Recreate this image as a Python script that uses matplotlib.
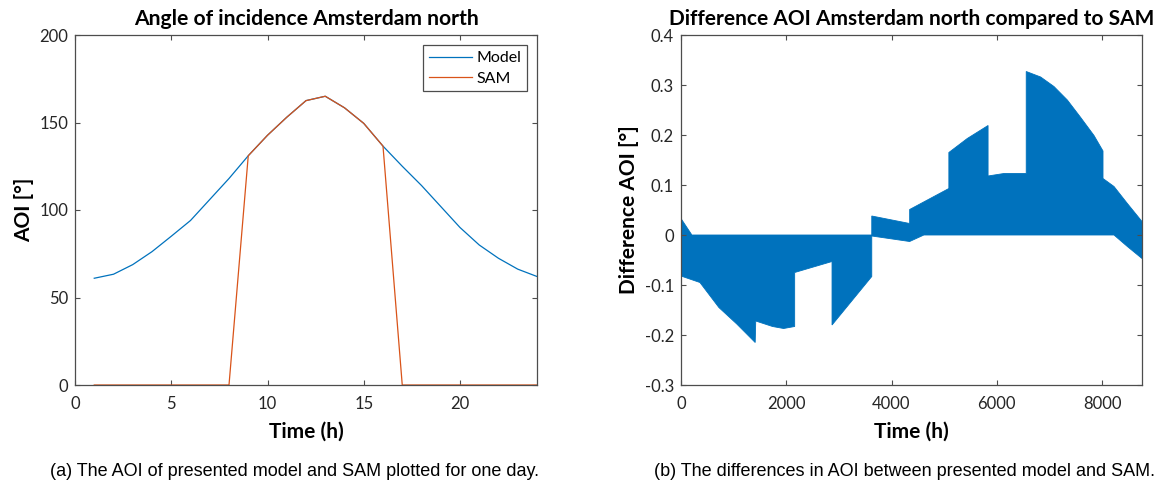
"""
AOI comparison figure: one day of model vs SAM angle of incidence,
and the hourly difference between the two over a full year.
"""

import matplotlib
matplotlib.use("Agg")   # headless
import matplotlib.pyplot as plt


# ─────────────────────────────────────────────── data

HOURS = list(range(1, 25))
AOI_MODEL = [61, 63.3, 68.8, 76.2, 85, 94, 106, 118, 131, 142.7, 153, 162.5,
             165, 158.4, 149.5, 136.5, 125, 114, 102, 90, 80, 72.4, 66.2, 62]
AOI_SAM = [0, 0, 0, 0, 0, 0, 0, 0, 131, 142.7, 153, 162.5,
           165, 158.4, 149.5, 136.5, 0, 0, 0, 0, 0, 0, 0, 0]

# edges of the hourly difference band over the year (hour, degrees)
DIFF_UPPER_H = [0, 207, 3625, 3625, 4345, 4345, 5090, 5090, 5440, 5835, 5835,
                6136, 6560, 6560, 6834, 7087, 7341, 7595, 7848, 8019, 8019,
                8228, 8482, 8760]
DIFF_UPPER_V = [0.033, 0.0, 0.0, 0.038, 0.023, 0.051, 0.093, 0.165, 0.193,
                0.219, 0.118, 0.123, 0.123, 0.327, 0.316, 0.297, 0.27, 0.235,
                0.199, 0.168, 0.113, 0.097, 0.063, 0.027]
DIFF_LOWER_H = [0, 360, 720, 1060, 1410, 1420, 1740, 1950, 2160, 2160, 2870,
                2870, 3625, 3625, 4345, 4615, 8228, 8482, 8760]
DIFF_LOWER_V = [-0.082, -0.095, -0.145, -0.178, -0.215, -0.172, -0.183,
                -0.187, -0.183, -0.075, -0.053, -0.18, -0.083, -0.002, -0.013,
                0.0, 0.0, -0.023, -0.047]

BLUE   = "#0072BD"
ORANGE = "#D95319"
INK    = "#262626"

plt.rcParams["font.family"] = ["Lato", "DejaVu Sans"]


# ─────────────────────────────────────────────── helpers

def _style_axes(ax):
    for sp in ax.spines.values():
        sp.set_edgecolor("#4d4d4d")
        sp.set_linewidth(0.9)
    ax.tick_params(direction="in", length=3.3, width=0.8, color="#4d4d4d",
                   labelcolor=INK, labelsize=12, top=True, right=True)
    ax.tick_params(axis="x", pad=8)
    ax.tick_params(axis="y", pad=5)


# ─────────────────────────────────────────────── figure

fig = plt.figure(figsize=(11.6, 4.88), dpi=100)
ax_l = fig.add_axes([75 / 1160, 103 / 488, 462 / 1160, 350 / 488])
ax_r = fig.add_axes([681 / 1160, 103 / 488, 461 / 1160, 350 / 488])

# left: one day
ax_l.plot(HOURS, AOI_MODEL, color=BLUE, lw=0.9, label="Model")
ax_l.plot(HOURS, AOI_SAM, color=ORANGE, lw=0.9, label="SAM")
ax_l.set_xlim(0, 24)
ax_l.set_ylim(0, 200)
ax_l.set_xticks([0, 5, 10, 15, 20])
ax_l.set_yticks([0, 50, 100, 150, 200])
ax_l.set_title("Angle of incidence Amsterdam north", fontsize=15.2,
               fontweight="bold", color="black", pad=7)
ax_l.set_xlabel("Time (h)", fontsize=15, fontweight="bold", labelpad=7)
ax_l.set_ylabel("AOI [°]", fontsize=15, fontweight="bold", labelpad=4)
leg = ax_l.legend(loc="upper right", fontsize=11.5, handlelength=2.7,
                  handletextpad=0.25, borderaxespad=0.65, labelspacing=0.4,
                  borderpad=0.35, fancybox=False, framealpha=1)
leg.get_frame().set_edgecolor("#4d4d4d")
leg.get_frame().set_linewidth(0.9)
_style_axes(ax_l)

# right: yearly difference band
band_x = DIFF_UPPER_H + DIFF_LOWER_H[::-1]
band_y = DIFF_UPPER_V + DIFF_LOWER_V[::-1]
ax_r.fill(band_x, band_y, color=BLUE, lw=0.6)
ax_r.set_xlim(0, 8760)
ax_r.set_ylim(-0.3, 0.4)
ax_r.set_xticks([0, 2000, 4000, 6000, 8000])
ax_r.set_yticks([-0.3, -0.2, -0.1, 0, 0.1, 0.2, 0.3, 0.4])
ax_r.set_yticklabels(["-0.3", "-0.2", "-0.1", "0", "0.1", "0.2", "0.3", "0.4"])
ax_r.set_title("Difference AOI Amsterdam north compared to SAM", fontsize=15,
               fontweight="bold", color="black", pad=7)
ax_r.set_xlabel("Time (h)", fontsize=15, fontweight="bold", labelpad=7)
ax_r.set_ylabel("Difference AOI [°]", fontsize=15, fontweight="bold",
                labelpad=4)
_style_axes(ax_r)

# sub-captions
fig.text(295 / 1160, 17 / 488, "(a) The AOI of presented model and SAM plotted for one day.",
         ha="center", va="center", fontsize=13, family="Liberation Sans")
fig.text(904 / 1160, 17 / 488, "(b) The differences in AOI between presented model and SAM.",
         ha="center", va="center", fontsize=13, family="Liberation Sans")

fig.savefig("out.png", dpi=100, facecolor="white")
plt.close(fig)
